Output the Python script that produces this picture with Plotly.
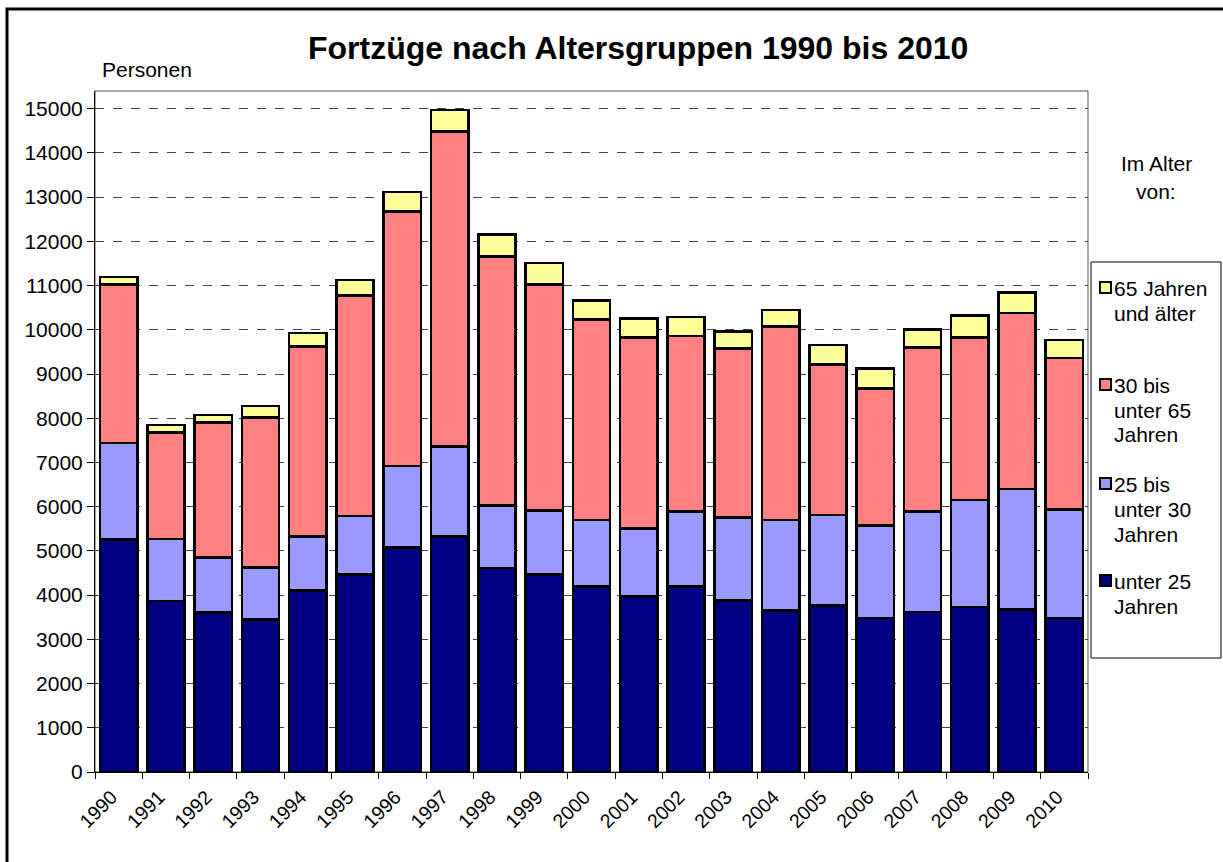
import plotly.graph_objects as go

years = [str(y) for y in range(1990, 2011)]
unter_25 = [5260, 3870, 3610, 3450, 4110, 4460, 5080, 5320, 4610, 4470, 4190,
            3970, 4190, 3880, 3650, 3760, 3480, 3620, 3730, 3680, 3480]
j25_30 = [2180, 1400, 1240, 1180, 1210, 1330, 1840, 2040, 1410, 1440, 1510,
          1530, 1700, 1880, 2050, 2050, 2100, 2270, 2420, 2720, 2450]
j30_65 = [3580, 2410, 3050, 3390, 4300, 4980, 5760, 7120, 5640, 5110, 4530,
          4330, 3970, 3820, 4380, 3400, 3090, 3710, 3680, 3980, 3430]
j65_plus = [170, 170, 170, 260, 310, 360, 440, 490, 490, 490, 430,
            420, 430, 380, 370, 450, 460, 400, 500, 460, 410]

series_names = ["unter 25 Jahren", "25 bis unter 30 Jahren",
                "30 bis unter 65 Jahren", "65 Jahren und älter"]
legend_lines = [["unter 25", "Jahren"], ["25 bis", "unter 30", "Jahren"],
                ["30 bis", "unter 65", "Jahren"], ["65 Jahren", "und älter"]]
series_values = [unter_25, j25_30, j30_65, j65_plus]
colors = ["#000080", "#9999FF", "#FF8080", "#FFFF99"]
y_ticks = list(range(0, 15001, 1000))
y_tick_labels = [str(v) for v in y_ticks]

W, H = 1223, 862
L, R, T, B = 95, 1088, 91, 772
FONT = "Liberation Sans, Arial, sans-serif"
FS = 21


def px(x):
    return (x - L) / (R - L)


def py(y):
    return (B - y) / (B - T)


fig = go.Figure()
for name, vals, col in zip(series_names, series_values, colors):
    fig.add_trace(go.Bar(x=years, y=vals, name=name, marker_color=col,
                         marker_line_color="black", marker_line_width=2.6,
                         showlegend=False))

fig.update_layout(
    width=W, height=H, barmode="stack", bargap=0.21,
    margin=dict(l=L, r=W - R, t=T, b=H - B, pad=0),
    paper_bgcolor="white", plot_bgcolor="white",
    font=dict(family=FONT, size=FS, color="black"),
)
fig.update_xaxes(type="category", showline=True, linecolor="black", linewidth=1,
                 ticks="outside", tickson="boundaries", ticklen=6, tickcolor="black",
                 tickangle=-45, showgrid=False, tickfont=dict(size=19.5),
                 ticklabelshift=-7, ticklabelstandoff=5)
fig.update_yaxes(range=[0, 15400], tickvals=y_ticks, ticktext=y_tick_labels,
                 showline=True, linecolor="black",
                 linewidth=1, ticks="outside", ticklen=7, tickcolor="black",
                 showgrid=True, gridcolor="#444444", gridwidth=1.3, griddash="dash",
                 zeroline=False, tickfont=dict(size=FS))

shapes = []
# plot area border (top/right)
shapes.append(dict(type="rect", xref="paper", yref="paper", x0=0, y0=0, x1=1, y1=1,
                   line=dict(color="#555555", width=1), layer="below"))
# outer chart frame
shapes.append(dict(type="rect", xref="paper", yref="paper", x0=px(7), y0=py(868),
                   x1=px(1230), y1=py(9), line=dict(color="black", width=3)))
# legend box
shapes.append(dict(type="rect", xref="paper", yref="paper", x0=px(1091), y0=py(658),
                   x1=px(1221), y1=py(262), line=dict(color="black", width=1),
                   fillcolor="white"))

annotations = [
    dict(text="<b>Fortzüge nach Altersgruppen 1990 bis 2010</b>", xref="paper", yref="paper",
         x=px(638), y=py(48), xanchor="center", yanchor="middle", showarrow=False,
         font=dict(size=32, family=FONT)),
    dict(text="Personen", xref="paper", yref="paper", x=px(100), y=py(70),
         xanchor="left", yanchor="middle", showarrow=False, font=dict(size=FS)),
    dict(text="Im Alter", xref="paper", yref="paper", x=px(1156), y=py(163),
         xanchor="center", yanchor="middle", showarrow=False, font=dict(size=FS)),
    dict(text="von:", xref="paper", yref="paper", x=px(1156), y=py(191),
         xanchor="center", yanchor="middle", showarrow=False, font=dict(size=FS)),
]

# manual legend entries (top to bottom)
legend_tops = [282, 379, 478, 575]
legend_order = [3, 2, 1, 0]
for top, idx in zip(legend_tops, legend_order):
    shapes.append(dict(type="rect", xref="paper", yref="paper", x0=px(1100), y0=py(top + 11),
                       x1=px(1111), y1=py(top), fillcolor=colors[idx],
                       line=dict(color="black", width=2)))
    for k, line in enumerate(legend_lines[idx]):
        annotations.append(dict(text=line, xref="paper", yref="paper",
                                x=px(1112), y=py(top + 6 + 25 * k), xanchor="left",
                                yanchor="middle", showarrow=False,
                                font=dict(size=FS)))

fig.update_layout(shapes=shapes, annotations=annotations)
fig.write_html("out.html", config={"displayModeBar": False},
               post_script="document.body.style.margin='0';document.body.style.padding='0';")
